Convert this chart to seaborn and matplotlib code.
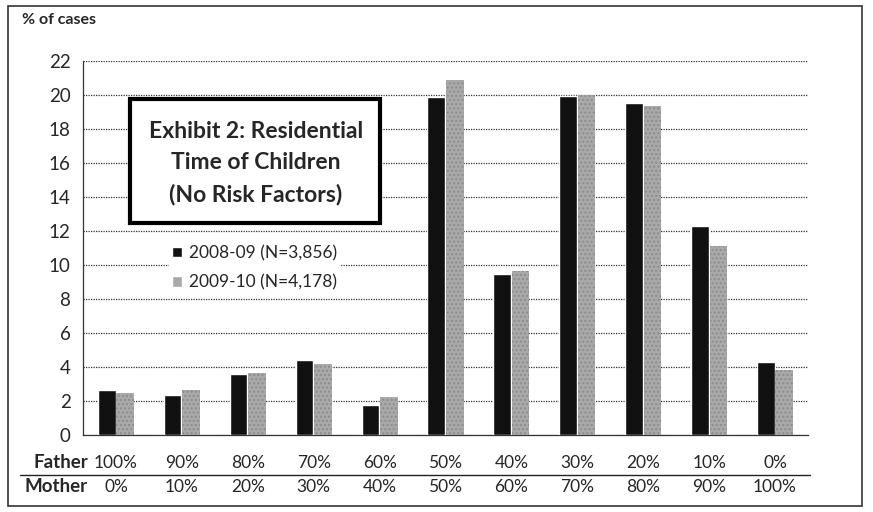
import matplotlib
matplotlib.use("Agg")
import matplotlib.pyplot as plt
from matplotlib.patches import Rectangle
from matplotlib.lines import Line2D
import seaborn as sns
import pandas as pd

father = ["100%", "90%", "80%", "70%", "60%", "50%", "40%", "30%", "20%", "10%", "0%"]
mother = ["0%", "10%", "20%", "30%", "40%", "50%", "60%", "70%", "80%", "90%", "100%"]
y0809 = [2.64, 2.36, 3.6, 4.44, 1.74, 19.86, 9.5, 19.94, 19.55, 12.3, 4.3]
y0910 = [2.47, 2.64, 3.65, 4.15, 2.25, 20.9, 9.65, 20.0, 19.35, 11.1, 3.8]
series = ["2008-09 (N=3,856)", "2009-10 (N=4,178)"]

rows = []
for i, c in enumerate(father):
    rows.append({"cat": c, "year": series[0], "pct": y0809[i]})
    rows.append({"cat": c, "year": series[1], "pct": y0910[i]})
df = pd.DataFrame(rows)

sns.set_style("white")
plt.rcParams["font.family"] = ["Lato", "DejaVu Sans"]

W, H = 873, 512
fig = plt.figure(figsize=(8.73, 5.12), dpi=100)
ax = fig.add_axes([83 / W, (H - 435) / H, (808 - 83) / W, (435 - 61) / H])

sns.barplot(data=df, x="cat", y="pct", hue="year", order=father,
            palette=["#111111", "#a9a9a9"], width=0.56, gap=0.04,
            saturation=1, ax=ax, zorder=3)
for bar in ax.containers[1]:
    bar.set_hatch("....")
    bar.set_edgecolor("#8c8c8c")
    bar.set_linewidth(0)

ax.set_ylim(0, 22)
ax.set_xlim(-0.5, 10.5)
ax.set_yticks(range(0, 23, 2))
ax.yaxis.grid(True, linestyle=(0, (1, 1)), color="#333333", linewidth=0.9, zorder=0)
ax.set_xticks([x - 0.5 for x in range(12)])
ax.set_xticklabels([])
ax.tick_params(axis="x", direction="out", length=4, width=0.8, color="#333333")
ax.tick_params(axis="y", direction="out", length=4, width=0.8, color="#333333",
               labelsize=13.5, pad=5)
ax.set_xlabel("")
ax.set_ylabel("")
for s in ["top", "right"]:
    ax.spines[s].set_visible(False)
for s in ["left", "bottom"]:
    ax.spines[s].set_color("#333333")
    ax.spines[s].set_linewidth(0.9)

# category table under the axis
for i in range(len(father)):
    ax.text(i, -0.075, father[i], transform=ax.get_xaxis_transform(),
            ha="center", va="center", fontsize=12.5)
    ax.text(i, -0.14, mother[i], transform=ax.get_xaxis_transform(),
            ha="center", va="center", fontsize=12.5)
fig.text(88 / W, 1 - 463 / H, "Father", ha="right", va="center",
         fontsize=13.5, fontweight="bold")
fig.text(88 / W, 1 - 487 / H, "Mother", ha="right", va="center",
         fontsize=13.5, fontweight="bold")
fig.add_artist(Line2D([20 / W, 810 / W], [1 - 475 / H] * 2, color="#222222", lw=1))

fig.text(22 / W, 1 - 20 / H, "% of cases", fontsize=11.5, fontweight="bold", va="center")

# title box
fig.add_artist(Rectangle((130 / W, 1 - 223 / H), 250 / W, 124 / H,
                         facecolor="white", edgecolor="black", lw=3, zorder=5))
fig.text(256 / W, 1 - 163 / H, "Exhibit 2: Residential\nTime of Children\n(No Risk Factors)",
         ha="center", va="center", fontsize=16.5, fontweight="bold",
         linespacing=1.6, zorder=6)

leg = ax.legend(loc="upper left", bbox_to_anchor=(160 / W, 1 - 233 / H),
                bbox_transform=fig.transFigure, frameon=True, fontsize=12.5,
                handlelength=0.55, handleheight=0.55, handletextpad=0.4,
                labelspacing=0.75, borderpad=0.2)
leg.get_frame().set_edgecolor("white")
leg.get_frame().set_facecolor("white")
leg.get_frame().set_alpha(1)

fig.add_artist(Rectangle((8 / W, 1 - 506 / H), 854 / W, 500 / H,
                         facecolor="none", edgecolor="#333333", lw=1.2))

fig.savefig("out.png", dpi=100)
